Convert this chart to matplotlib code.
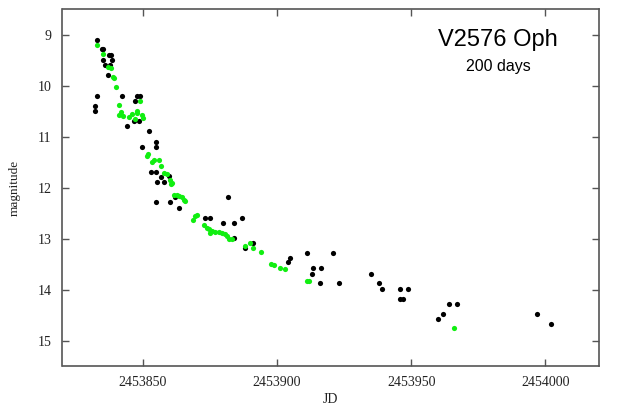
import matplotlib
matplotlib.use("Agg")
import matplotlib.pyplot as plt

# Black points (JD, magnitude)
black_jd = [2453833.0, 2453834.6, 2453835.2, 2453837.2, 2453838.1, 2453835.2, 2453838.6,
            2453835.8, 2453837.7, 2453836.9, 2453832.8, 2453832.1, 2453832.1, 2453842.1,
            2453847.9, 2453848.9, 2453847.0, 2453844.0, 2453846.8, 2453848.5, 2453852.1,
            2453854.7, 2453854.7, 2453849.5, 2453852.9, 2453854.9, 2453856.6, 2453855.1,
            2453857.9, 2453859.8, 2453854.9, 2453860.1, 2453862.1, 2453863.6, 2453873.1,
            2453875.0, 2453881.6, 2453880.0, 2453884.0, 2453886.9, 2453884.0, 2453890.9,
            2453888.2, 2453904.8, 2453904.0, 2453911.0, 2453921.0, 2453913.5, 2453916.3,
            2453913.0, 2453916.0, 2453923.1, 2453935.0, 2453937.9, 2453939.2, 2453945.8,
            2453948.9, 2453945.8, 2453947.1, 2453964.1, 2453967.0, 2453962.0, 2453959.9,
            2453996.8, 2454002.0]
black_mag = [9.10, 9.29, 9.29, 9.40, 9.40, 9.50, 9.50,
             9.60, 9.60, 9.80, 10.20, 10.40, 10.50, 10.20,
             10.20, 10.20, 10.30, 10.80, 10.70, 10.70, 10.90,
             11.10, 11.20, 11.20, 11.70, 11.70, 11.79, 11.89,
             11.89, 11.78, 12.29, 12.29, 12.19, 12.40, 12.59,
             12.59, 12.19, 12.69, 12.69, 12.59, 12.99, 13.08,
             13.19, 13.39, 13.47, 13.29, 13.29, 13.58, 13.58,
             13.69, 13.88, 13.88, 13.69, 13.88, 13.99, 13.99,
             13.99, 14.19, 14.19, 14.29, 14.29, 14.48, 14.58,
             14.48, 14.68]

# Green points (JD, magnitude)
green_jd = [2453833.0, 2453835.0, 2453837.1, 2453838.0, 2453838.7, 2453839.2, 2453839.8,
            2453848.9, 2453841.1, 2453841.8, 2453841.1, 2453842.7, 2453844.8, 2453845.8,
            2453847.7, 2453847.9, 2453847.0, 2453849.8, 2453849.9, 2453851.4, 2453851.9,
            2453853.3, 2453854.0, 2453856.1, 2453856.8, 2453857.9, 2453858.9, 2453860.1,
            2453860.7, 2453860.5, 2453861.7, 2453862.6, 2453863.6, 2453864.6, 2453865.4,
            2453865.7, 2453870.0, 2453869.4, 2453868.8, 2453872.8, 2453873.8, 2453874.7,
            2453875.6, 2453875.0, 2453876.9, 2453878.5, 2453879.4, 2453880.6, 2453881.2,
            2453882.2, 2453883.1, 2453888.0, 2453889.9, 2453890.9, 2453894.0, 2453897.6,
            2453899.0, 2453901.0, 2453903.0, 2453911.0, 2453912.0, 2453966.1]
green_mag = [9.21, 9.39, 9.63, 9.66, 9.83, 9.85, 10.02,
             10.30, 10.38, 10.52, 10.58, 10.60, 10.61, 10.56,
             10.50, 10.54, 10.65, 10.58, 10.63, 11.38, 11.34,
             11.50, 11.47, 11.46, 11.57, 11.72, 11.73, 11.85,
             11.91, 11.94, 12.14, 12.15, 12.16, 12.19, 12.24,
             12.27, 12.53, 12.56, 12.63, 12.74, 12.79, 12.81,
             12.86, 12.89, 12.87, 12.87, 12.90, 12.92, 12.96,
             13.00, 13.00, 13.15, 13.08, 13.19, 13.26, 13.50,
             13.52, 13.57, 13.60, 13.83, 13.83, 14.76]

x_ticks = [2453850, 2453900, 2453950, 2454000]
y_ticks = [9, 10, 11, 12, 13, 14, 15]

fig = plt.figure(figsize=(6.19, 4.07), dpi=100)
ax = fig.add_axes([62.5 / 619, (407 - 366) / 407, (599 - 62.5) / 619, (366 - 9) / 407])

ax.scatter(black_jd, black_mag, s=14, color="black", linewidths=0, zorder=2)
ax.scatter(green_jd, green_mag, s=14, color="#11ee11", linewidths=0, zorder=3)

ax.set_xlim(2453820, 2454020)
ax.set_ylim(15.5, 8.5)
ax.set_xticks(x_ticks)
ax.set_xticklabels([str(t) for t in x_ticks])
ax.set_yticks(y_ticks)
ax.set_yticklabels([str(t) for t in y_ticks])

serif = ["Liberation Serif", "DejaVu Serif"]
for lab in ax.get_xticklabels() + ax.get_yticklabels():
    lab.set_family(serif)
    lab.set_fontsize(10)
    lab.set_color("#222222")

ax.tick_params(axis="x", direction="in", length=5, width=1, color="#555555",
               top=True, pad=7)
ax.tick_params(axis="y", direction="in", length=5, width=1, color="#555555",
               right=True, pad=8)
for sp in ax.spines.values():
    sp.set_color("#555555")
    sp.set_linewidth(1.2)

ax.set_xlabel("JD", family=serif, fontsize=10, color="#222222", labelpad=3)
ax.set_ylabel("magnitude", family=serif, fontsize=9.5, color="#222222", labelpad=12)

sans = ["Liberation Sans", "DejaVu Sans"]
ax.text(0.812, 0.913, "V2576 Oph", transform=ax.transAxes, ha="center", va="center",
        family=sans, fontsize=17, color="black")
ax.text(0.812, 0.838, "200 days", transform=ax.transAxes, ha="center", va="center",
        family=sans, fontsize=11.5, color="black")

fig.savefig("out.png", dpi=100)
